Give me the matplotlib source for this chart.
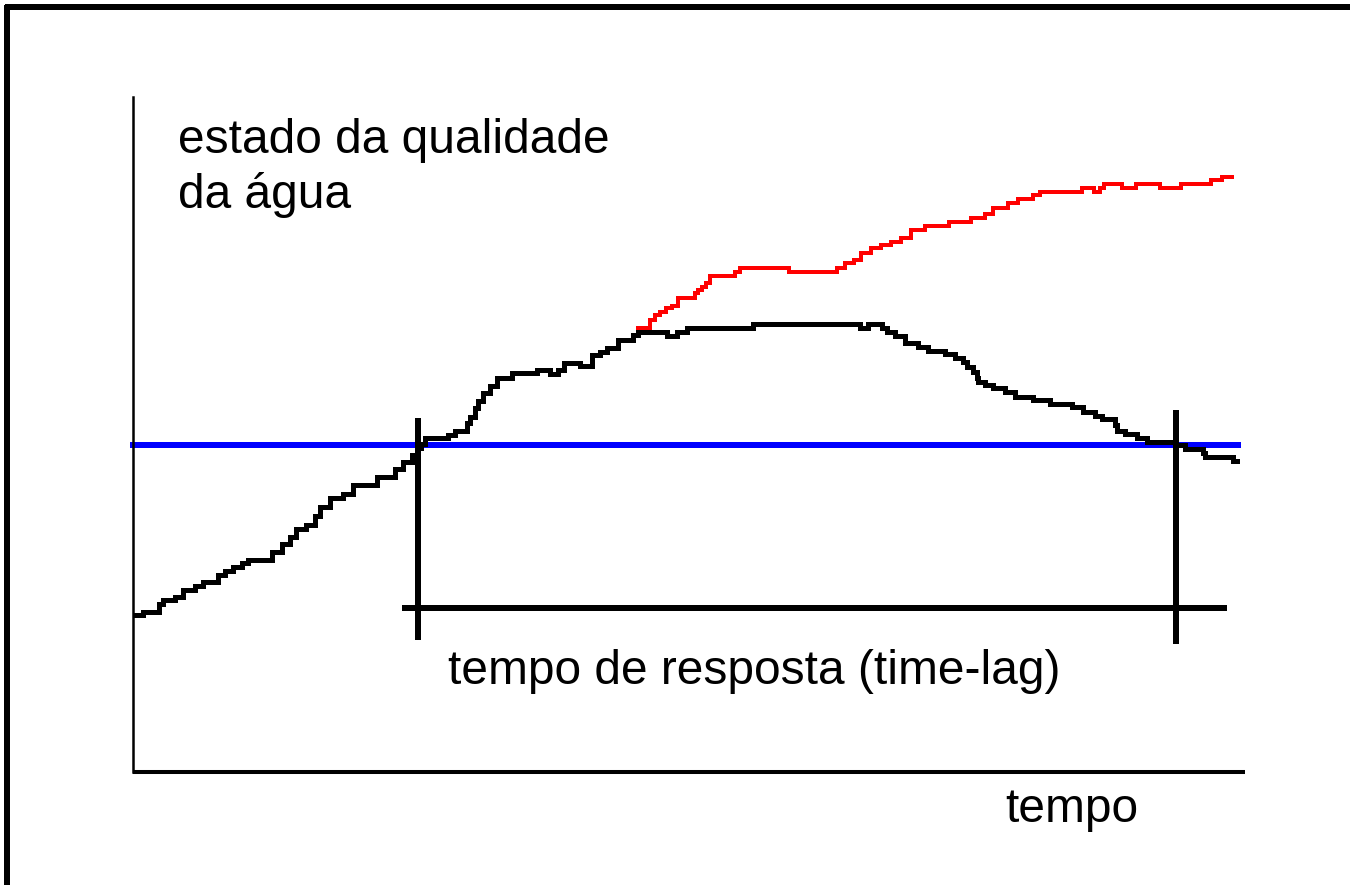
import matplotlib
matplotlib.use("Agg")
import matplotlib.pyplot as plt
from matplotlib.lines import Line2D

# water-quality state over time (arbitrary units 0-100)
t_obs = [0.2, 0.9, 2.3, 2.7, 3.8, 4.5, 5.6, 6.3, 7.6, 8.3, 9.0, 9.8, 10.3, 12.5, 13.4,
         14.1, 14.7, 15.6, 16.4, 16.8, 17.7, 18.9, 19.8, 21.9, 23.6, 24.3, 25.1, 25.5,
         25.9, 26.3, 28.3, 29.0, 30.0, 30.3, 30.8, 31.0, 31.5, 32.1, 32.7, 34.1, 36.3,
         37.5, 38.2, 38.8, 40.2, 41.3, 42.0, 42.6, 43.6, 45.0, 45.4, 48.0, 48.9, 49.8,
         55.8, 65.4, 66.1, 67.4, 67.8, 68.5, 69.4, 70.6, 71.5, 73.0, 73.9, 74.6, 75.0,
         75.5, 75.9, 76.0, 76.6, 77.3, 78.4, 79.3, 80.9, 82.5, 84.4, 85.4, 86.5, 87.1,
         88.3, 88.5, 89.2, 90.3, 91.2, 93.7, 94.6, 96.2, 96.4, 98.9, 99.3]
q_obs = [23.3, 23.7, 24.9, 25.5, 25.9, 27.0, 27.6, 28.1, 29.2, 29.8, 30.4, 31.0, 31.4,
         32.6, 33.8, 34.8, 36.0, 36.6, 37.9, 39.3, 40.6, 41.2, 42.5, 43.7, 44.9, 45.9,
         47.0, 48.0, 48.6, 49.5, 49.9, 50.5, 51.7, 52.6, 53.9, 55.0, 56.1, 57.2, 58.4,
         59.1, 59.6, 59.0, 59.6, 60.6, 60.1, 61.8, 62.2, 62.8, 64.0, 64.7, 65.2, 64.6,
         65.2, 65.8, 66.4, 65.8, 66.4, 65.8, 65.2, 64.6, 63.6, 63.0, 62.4, 61.9, 61.3,
         60.7, 60.0, 59.3, 58.4, 57.8, 57.3, 56.9, 56.3, 55.6, 55.1, 54.5, 54.1, 53.3,
         52.7, 52.3, 51.4, 50.5, 50.1, 49.5, 48.9, 48.4, 47.9, 47.3, 46.7, 46.1, 46.1]

# without intervention (red branch)
t_alt = [45.4, 46.5, 46.9, 47.4, 47.9, 48.5, 49.0, 50.5, 50.8, 51.2, 51.5, 51.9, 54.1,
         54.6, 59.0, 63.3, 64.0, 64.8, 65.5, 66.4, 67.3, 68.2, 69.1, 70.0, 71.2, 73.4,
         75.4, 76.6, 77.3, 78.7, 79.6, 80.9, 81.6, 85.3, 86.4, 87.0, 87.3, 88.9, 90.2,
         92.4, 94.2, 96.9, 97.9, 98.8]
q_alt = [65.8, 67.0, 67.7, 68.2, 68.7, 69.0, 70.2, 71.0, 71.4, 71.9, 72.4, 73.5, 74.1,
         74.7, 74.1, 74.7, 75.4, 75.9, 76.9, 77.6, 78.1, 78.5, 79.1, 80.3, 80.9, 81.5,
         82.1, 82.7, 83.6, 84.3, 84.9, 85.5, 85.9, 86.5, 85.9, 86.5, 87.1, 86.5, 87.1,
         86.5, 87.1, 87.7, 88.2, 88.2]

threshold = 48.4
threshold_span = (-0.3, 99.6)

lag_start, lag_end = 25.6, 93.8
lag_level = 24.3
lag_span = (24.2, 98.4)

W, H = 1350, 885
plt.rcParams["font.family"] = ["Liberation Sans", "DejaVu Sans"]
plt.rcParams["lines.antialiased"] = False

fig = plt.figure(figsize=(W / 100, H / 100), dpi=100)


def fx(x):
    return x / W


def fy(y):
    return 1 - y / H


ax = fig.add_axes([fx(133), fy(772), (1245 - 133) / W, (772 - 97) / H])
ax.set_xlim(0, 100)
ax.set_ylim(0, 100)
for s in ("top", "right"):
    ax.spines[s].set_visible(False)
ax.spines["left"].set_linewidth(1.8)
ax.spines["bottom"].set_linewidth(2.9)
ax.spines["bottom"].set_capstyle("butt")
ax.set_xticks([])
ax.set_yticks([])

ax.hlines(threshold, *threshold_span, color="#0000ff", lw=2.9, clip_on=False, zorder=2)
ax.plot(t_obs, q_obs, drawstyle="steps-post", color="black", lw=2.3,
        solid_joinstyle="miter", zorder=3)
ax.plot(t_alt, q_alt, drawstyle="steps-post", color="#ff0000", lw=2.6,
        solid_joinstyle="miter", zorder=3)

# response time bracket
ax.hlines(lag_level, *lag_span, color="black", lw=2.9, zorder=4)
ax.vlines(lag_start, 19.6, 52.4, color="black", lw=2.9, zorder=4)
ax.vlines(lag_end, 19.0, 53.6, color="black", lw=2.9, zorder=4)

fs = 34.5
fig.text(fx(178), fy(153), "estado da qualidade", fontsize=fs, va="baseline")
fig.text(fx(178), fy(208), "da água", fontsize=fs, va="baseline")
fig.text(fx(448), fy(684), "tempo de resposta (time-lag)", fontsize=fs, va="baseline")
fig.text(fx(1005), fy(822), "tempo", fontsize=fs, va="baseline")

# frame lines along top and left edge
fig.add_artist(Line2D([fx(5), 1], [fy(7), fy(7)], color="black", lw=2.9,
                      solid_capstyle="butt"))
fig.add_artist(Line2D([fx(7), fx(7)], [fy(5), 0], color="black", lw=2.9,
                      solid_capstyle="butt"))

fig.savefig("out.png", dpi=100, facecolor="white")
